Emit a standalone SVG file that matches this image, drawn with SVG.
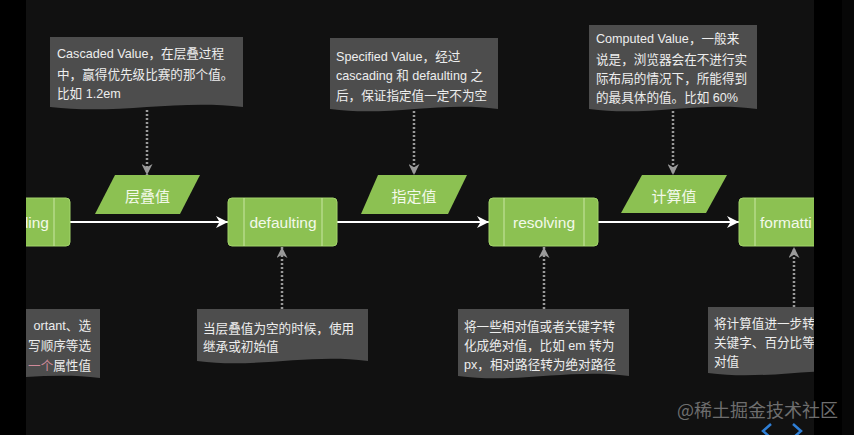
<svg xmlns="http://www.w3.org/2000/svg" width="854" height="435" viewBox="0 0 854 435">
<style>
.box{fill:#8cc152;stroke:#a2d46a;stroke-width:1}
.div{stroke:#c9e6a3;stroke-width:1}
.para{fill:#8cc152}
.blbl{font-family:"Liberation Sans","Noto Sans CJK SC",sans-serif;font-size:15.5px;fill:#f3f9ea}
.plbl{font-family:"Noto Sans CJK SC",sans-serif;font-size:15px;fill:#f3f9ea}
.call{fill:#4d4d4d}
.ctxt{font-family:"Liberation Sans","Noto Sans CJK SC",sans-serif;font-size:12.6px;fill:#eeeeee}
.flow{stroke:#ffffff;stroke-width:2;fill:none}
.dot{stroke:#9a9a9a;stroke-width:2.5;stroke-dasharray:2 2;fill:none}
</style>
<defs>
<marker id="ah" viewBox="0 0 10 10" refX="10" refY="5" markerWidth="13" markerHeight="12" markerUnits="userSpaceOnUse" orient="auto"><path d="M0,0 L10,5 L0,10 L3,5 Z" fill="#ffffff"/></marker>
<marker id="gh" viewBox="0 0 10 10" refX="10" refY="5" markerWidth="11" markerHeight="11" markerUnits="userSpaceOnUse" orient="auto"><path d="M0,0 L10,5 L0,10 L3,5 Z" fill="#9a9a9a"/></marker>
<clipPath id="stage"><rect x="26" y="0" width="788" height="435"/></clipPath>
</defs>
<rect x="0" y="0" width="854" height="435" fill="#000000"/>
<rect x="842" y="0" width="12" height="435" fill="#070707"/>
<rect x="26" y="0" width="788" height="435" fill="#111111"/>
<g clip-path="url(#stage)">
<g id="connectors">
<line class="flow" x1="70" y1="222" x2="228" y2="222" marker-end="url(#ah)"/>
<line class="flow" x1="337" y1="222" x2="489" y2="222" marker-end="url(#ah)"/>
<line class="flow" x1="598" y1="222" x2="739" y2="222" marker-end="url(#ah)"/>
<line class="dot" x1="147" y1="110" x2="147" y2="175" marker-end="url(#gh)"/>
<line class="dot" x1="414" y1="111" x2="414" y2="175" marker-end="url(#gh)"/>
<line class="dot" x1="673" y1="111" x2="673" y2="175" marker-end="url(#gh)"/>
<line class="dot" x1="282" y1="309" x2="282" y2="247" marker-end="url(#gh)"/>
<line class="dot" x1="544" y1="309" x2="544" y2="247" marker-end="url(#gh)"/>
<line class="dot" x1="794" y1="307" x2="794" y2="247" marker-end="url(#gh)"/>
</g>
<g id="node-cascading">
<rect class="box" x="-39" y="198" width="109" height="48" rx="4"/>
<line class="div" x1="54" y1="198" x2="54" y2="246"/>
<text class="blbl" x="49" y="222" text-anchor="end" dominant-baseline="central">ding</text>
</g>
<g id="node-defaulting">
<rect class="box" x="228" y="198" width="109" height="48" rx="4"/>
<line class="div" x1="244" y1="198" x2="244" y2="246"/>
<line class="div" x1="322" y1="198" x2="322" y2="246"/>
<text class="blbl" x="283" y="222" text-anchor="middle" dominant-baseline="central">defaulting</text>
</g>
<g id="node-resolving">
<rect class="box" x="489" y="198" width="109" height="48" rx="4"/>
<line class="div" x1="504" y1="198" x2="504" y2="246"/>
<line class="div" x1="584" y1="198" x2="584" y2="246"/>
<text class="blbl" x="544" y="222" text-anchor="middle" dominant-baseline="central">resolving</text>
</g>
<g id="node-formatting">
<rect class="box" x="739" y="198" width="109" height="48" rx="4"/>
<line class="div" x1="755" y1="198" x2="755" y2="246"/>
<text class="blbl" x="760" y="222" dominant-baseline="central">formatti</text>
</g>
<g id="data-cascaded">
<polygon class="para" points="115,175 200,175 180,214 95,214"/>
<text class="plbl" x="147.5" y="195" text-anchor="middle" dominant-baseline="central">层叠值</text>
</g>
<g id="data-specified">
<polygon class="para" points="378,175 467,175 448,214 361,214"/>
<text class="plbl" x="414" y="195" text-anchor="middle" dominant-baseline="central">指定值</text>
</g>
<g id="data-computed">
<polygon class="para" points="642,175 727,175 706,213 621,213"/>
<text class="plbl" x="674" y="195" text-anchor="middle" dominant-baseline="central">计算值</text>
</g>
<g id="note-cascaded">
<path class="call" d="M50,37 H243 V107 C176,99 118,115 50,107 Z"/>
<text class="ctxt" x="57" y="54" dominant-baseline="central">Cascaded Value，在层叠过程</text>
<text class="ctxt" x="57" y="75" dominant-baseline="central">中，赢得优先级比赛的那个值。</text>
<text class="ctxt" x="57" y="94" dominant-baseline="central">比如 1.2em</text>
</g>
<g id="note-specified">
<path class="call" d="M330,38 H498 V109 C440,101 389,117 330,109 Z"/>
<text class="ctxt" x="336" y="57" dominant-baseline="central">Specified Value，经过</text>
<text class="ctxt" x="336" y="76" dominant-baseline="central">cascading 和 defaulting 之</text>
<text class="ctxt" x="336" y="96" dominant-baseline="central">后，保证指定值一定不为空</text>
</g>
<g id="note-computed">
<path class="call" d="M589,25 H757 V109 C699,101 648,117 589,109 Z"/>
<text class="ctxt" x="596" y="39" dominant-baseline="central">Computed Value，一般来</text>
<text class="ctxt" x="596" y="60" dominant-baseline="central">说是，浏览器会在不进行实</text>
<text class="ctxt" x="596" y="79" dominant-baseline="central">际布局的情况下，所能得到</text>
<text class="ctxt" x="596" y="98" dominant-baseline="central">的最具体的值。比如 60%</text>
</g>
<g id="note-cascading">
<path class="call" d="M-80,309 H100 V378 C40,370 -20,386 -80,378 Z"/>
<text class="ctxt" x="91" y="326" text-anchor="end" dominant-baseline="central">ortant、选</text>
<text class="ctxt" x="91" y="346" text-anchor="end" dominant-baseline="central">写顺序等选</text>
<text class="ctxt" x="91" y="366" text-anchor="end" dominant-baseline="central"><tspan fill="#d08a9a">一个</tspan>属性值</text>
</g>
<g id="note-defaulting">
<path class="call" d="M197,309 H368 V361 C309,353 257,369 197,361 Z"/>
<text class="ctxt" x="203" y="329" dominant-baseline="central">当层叠值为空的时候，使用</text>
<text class="ctxt" x="203" y="347" dominant-baseline="central">继承或初始值</text>
</g>
<g id="note-resolving">
<path class="call" d="M458,309 H629 V376 C570,368 518,384 458,376 Z"/>
<text class="ctxt" x="464" y="327" dominant-baseline="central">将一些相对值或者关键字转</text>
<text class="ctxt" x="464" y="346" dominant-baseline="central">化成绝对值，比如 em 转为</text>
<text class="ctxt" x="464" y="365" dominant-baseline="central">px，相对路径转为绝对路径</text>
</g>
<g id="note-formatting">
<path class="call" d="M708,307 H880 V373 C820,365 768,381 708,373 Z"/>
<text class="ctxt" x="714" y="324" dominant-baseline="central">将计算值进一步转</text>
<text class="ctxt" x="714" y="343" dominant-baseline="central">关键字、百分比等</text>
<text class="ctxt" x="714" y="362" dominant-baseline="central">对值</text>
</g>
</g>
<text x="677" y="409" font-family="'Noto Sans CJK SC',sans-serif" font-size="18" fill="#6e6e6e" dominant-baseline="central">@稀土掘金技术社区</text>
<polyline points="771,424 763,431 771,438" fill="none" stroke="#2f7fd6" stroke-width="2.5"/>
<polyline points="793,424 801,431 793,438" fill="none" stroke="#2f7fd6" stroke-width="2.5"/>
</svg>
